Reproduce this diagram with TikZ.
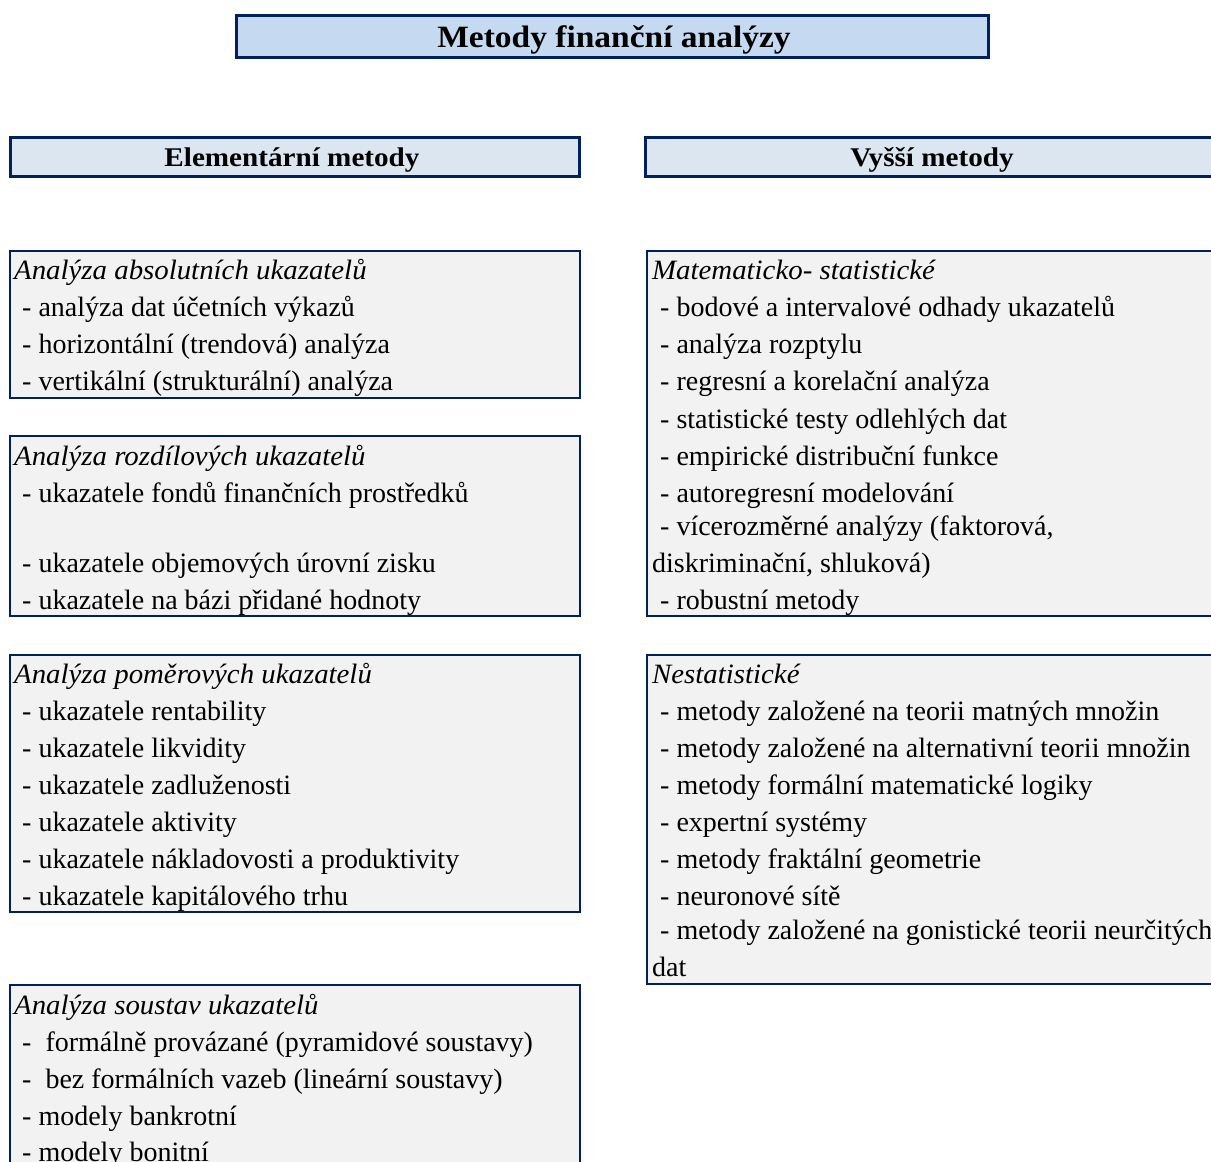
\documentclass[tikz,border=0pt]{standalone}
\usepackage{fontspec}
\setmainfont{Liberation Serif}
\newfontfamily\titlefont[FakeStretch=1.08]{Liberation Serif}
\newfontfamily\itfont[FakeStretch=1.03]{Liberation Serif Italic}
\definecolor{navy}{RGB}{0,32,96}
\definecolor{titlefill}{RGB}{197,217,241}
\definecolor{headfill}{RGB}{220,230,241}
\definecolor{boxfill}{RGB}{242,242,242}
\tikzset{
  titlebox/.style={draw=navy, line width=3pt, fill=titlefill},
  headbox/.style={draw=navy, line width=3pt, fill=headfill},
  listbox/.style={draw=navy, line width=2pt, fill=boxfill},
  ln/.style={anchor=base west, inner sep=0pt, font=\fontsize{28}{37}\selectfont},
  hd/.style={ln, font=\fontsize{28}{37}\itfont},
  ttl/.style={anchor=base, inner sep=0pt, font=\fontsize{31}{36}\titlefont\bfseries},
  hdr/.style={anchor=base, inner sep=0pt, font=\fontsize{27}{32}\titlefont\bfseries},
}
\begin{document}
\begin{tikzpicture}[x=1pt,y=-1pt]
\useasboundingbox (0,0) rectangle (1211,1162);
\clip (0,0) rectangle (1211,1162);
% title
\draw[titlebox] (236,15) rectangle (988,57);
\node[ttl] (title) at (614,47) {Metody finanční analýzy};
% headers
\draw[headbox] (10,137) rectangle (579,176);
\node[hdr] (hl) at (292,166) {Elementární metody};
\draw[headbox] (645,137) rectangle (1225,176);
\node[hdr] (hr) at (932,166) {Vyšší metody};
% left box 1
\draw[listbox] (10,251) rectangle (580,398);
\node[hd] (a0) at (14,279) {Analýza absolutních ukazatelů};
\node[ln] (a1) at (22,316) {- analýza dat účetních výkazů};
\node[ln] (a2) at (22,353) {- horizontální (trendová) analýza};
\node[ln] (a3) at (22,390) {- vertikální (strukturální) analýza};
% left box 2
\draw[listbox] (10,436) rectangle (580,616);
\node[hd] (b0) at (14,465) {Analýza rozdílových ukazatelů};
\node[ln] (b1) at (22,502) {- ukazatele fondů finančních prostředků};
\node[ln] (b2) at (22,572) {- ukazatele objemových úrovní zisku};
\node[ln] (b3) at (22,609) {- ukazatele na bázi přidané hodnoty};
% left box 3
\draw[listbox] (10,655) rectangle (580,912);
\node[hd] (c0) at (14,683) {Analýza poměrových ukazatelů};
\node[ln] (c1) at (22,720) {- ukazatele rentability};
\node[ln] (c2) at (22,757) {- ukazatele likvidity};
\node[ln] (c3) at (22,794) {- ukazatele zadluženosti};
\node[ln] (c4) at (22,831) {- ukazatele aktivity};
\node[ln] (c5) at (22,868) {- ukazatele nákladovosti a produktivity};
\node[ln] (c6) at (22,905) {- ukazatele kapitálového trhu};
% left box 4
\draw[listbox] (10,985) rectangle (580,1180);
\node[hd] (d0) at (14,1014) {Analýza soustav ukazatelů};
\node[ln] (d1) at (22,1051) {-\ \ formálně provázané (pyramidové soustavy)};
\node[ln] (d2) at (22,1088) {-\ \ bez formálních vazeb (lineární soustavy)};
\node[ln] (d3) at (22,1125) {- modely bankrotní};
\node[ln] (d4) at (22,1161) {- modely bonitní};
% right box 1
\draw[listbox] (647,251) rectangle (1225,616);
\node[hd] (e0) at (652,279) {Matematicko- statistické};
\node[ln] (e1) at (660,316) {- bodové a intervalové odhady ukazatelů};
\node[ln] (e2) at (660,353) {- analýza rozptylu};
\node[ln] (e3) at (660,390) {- regresní a korelační analýza};
\node[ln] (e4) at (660,428) {- statistické testy odlehlých dat};
\node[ln] (e5) at (660,465) {- empirické distribuční funkce};
\node[ln] (e6) at (660,502) {- autoregresní modelování};
\node[ln] (e7) at (660,535) {- vícerozměrné analýzy (faktorová,};
\node[ln] (e8) at (652,572) {diskriminační, shluková)};
\node[ln] (e9) at (660,609) {- robustní metody};
% right box 2
\draw[listbox] (647,655) rectangle (1225,984);
\node[hd] (f0) at (652,683) {Nestatistické};
\node[ln] (f1) at (660,720) {- metody založené na teorii matných množin};
\node[ln] (f2) at (660,757) {- metody založené na alternativní teorii množin};
\node[ln] (f3) at (660,794) {- metody formální matematické logiky};
\node[ln] (f4) at (660,831) {- expertní systémy};
\node[ln] (f5) at (660,868) {- metody fraktální geometrie};
\node[ln] (f6) at (660,905) {- neuronové sítě};
\node[ln] (f7) at (660,939) {- metody založené na gonistické teorii neurčitých};
\node[ln] (f8) at (652,976) {dat};
\end{tikzpicture}
\end{document}
